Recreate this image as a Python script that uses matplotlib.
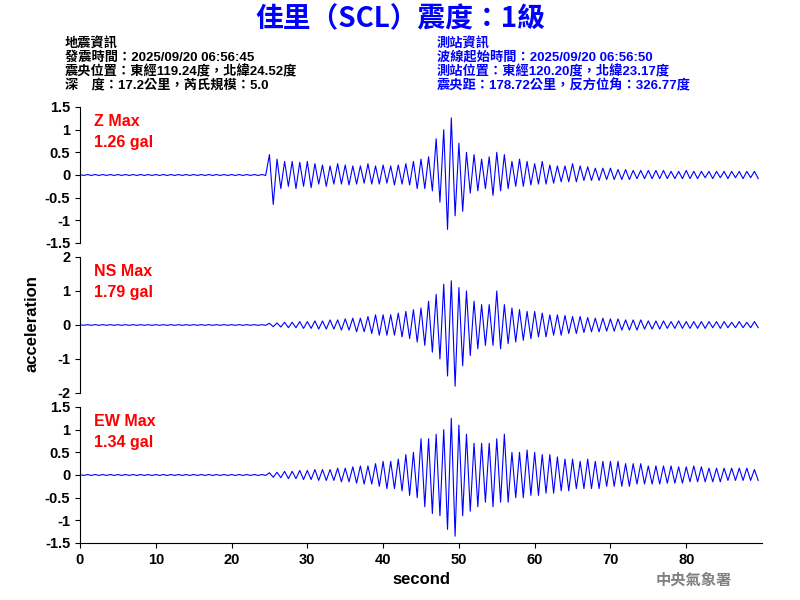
import numpy as np
import matplotlib
matplotlib.use('Agg')
import matplotlib.pyplot as plt

plt.rcParams['font.family'] = ['Liberation Sans', 'Noto Sans CJK TC']
plt.rcParams['font.weight'] = 'bold'

# per-second envelope (max positive, min negative), 0..89 s
z_pos = [0.01]*25 + [0.45, 0.35, 0.3, 0.3, 0.28, 0.3, 0.25, 0.22, 0.2, 0.25, 0.22, 0.2, 0.2, 0.25, 0.2,
         0.22, 0.2, 0.22, 0.25, 0.3, 0.35, 0.4, 0.8, 1.0, 1.26, 0.7, 0.5, 0.45, 0.35, 0.4, 0.5, 0.45,
         0.3, 0.35, 0.3, 0.25, 0.3, 0.22, 0.2, 0.2, 0.25, 0.2, 0.18, 0.15, 0.15, 0.15, 0.12, 0.12, 0.1,
         0.1, 0.1, 0.1, 0.1, 0.08, 0.08, 0.1, 0.08, 0.08, 0.08, 0.08, 0.08, 0.08, 0.08, 0.08, 0.08]
z_neg = [-0.01]*25 + [-0.65, -0.3, -0.25, -0.3, -0.25, -0.28, -0.2, -0.25, -0.2, -0.2, -0.22, -0.2, -0.18, -0.2,
         -0.2, -0.18, -0.22, -0.2, -0.22, -0.3, -0.3, -0.35, -0.6, -1.2, -0.9, -0.8, -0.4, -0.35, -0.3, -0.45,
         -0.35, -0.3, -0.25, -0.25, -0.22, -0.2, -0.2, -0.18, -0.15, -0.15, -0.15, -0.12, -0.12, -0.12, -0.1,
         -0.1, -0.1, -0.1, -0.08, -0.08, -0.08, -0.08, -0.08, -0.08, -0.08, -0.08, -0.08, -0.06, -0.08,
         -0.06, -0.08, -0.06, -0.08, -0.06, -0.08]
ns_pos = [0.01]*25 + [0.05, 0.06, 0.08, 0.08, 0.1, 0.1, 0.12, 0.12, 0.15, 0.15, 0.18, 0.2, 0.2, 0.25, 0.3,
          0.3, 0.3, 0.35, 0.4, 0.45, 0.5, 0.7, 0.9, 1.2, 1.3, 1.1, 1.0, 0.7, 0.6, 0.6, 1.0, 0.6, 0.5,
          0.45, 0.4, 0.4, 0.35, 0.3, 0.3, 0.28, 0.25, 0.25, 0.22, 0.2, 0.2, 0.18, 0.18, 0.15, 0.15, 0.15,
          0.12, 0.12, 0.12, 0.1, 0.12, 0.1, 0.1, 0.1, 0.1, 0.1, 0.1, 0.08, 0.1, 0.08, 0.1]
ns_neg = [-0.01]*25 + [-0.05, -0.06, -0.08, -0.08, -0.1, -0.1, -0.12, -0.12, -0.12, -0.15, -0.15, -0.2, -0.2,
          -0.25, -0.3, -0.3, -0.3, -0.35, -0.4, -0.5, -0.6, -0.8, -1.0, -1.5, -1.8, -1.2, -0.9, -0.7, -0.6,
          -0.6, -0.7, -0.55, -0.5, -0.45, -0.4, -0.35, -0.35, -0.3, -0.3, -0.25, -0.25, -0.22, -0.2, -0.2,
          -0.18, -0.18, -0.15, -0.15, -0.15, -0.12, -0.12, -0.12, -0.1, -0.1, -0.1, -0.1, -0.1, -0.1, -0.08,
          -0.1, -0.08, -0.08, -0.08, -0.08, -0.08]
ew_pos = [0.01]*25 + [0.05, 0.06, 0.08, 0.08, 0.1, 0.1, 0.12, 0.12, 0.12, 0.15, 0.15, 0.18, 0.2, 0.2, 0.25,
          0.3, 0.3, 0.35, 0.45, 0.5, 0.8, 0.8, 0.9, 1.0, 1.25, 1.1, 0.9, 0.7, 0.7, 0.7, 0.8, 0.9, 0.5,
          0.5, 0.55, 0.5, 0.45, 0.45, 0.4, 0.35, 0.35, 0.3, 0.35, 0.3, 0.3, 0.3, 0.3, 0.25, 0.25, 0.25,
          0.2, 0.2, 0.2, 0.2, 0.18, 0.18, 0.2, 0.18, 0.15, 0.15, 0.15, 0.15, 0.15, 0.15, 0.12]
ew_neg = [-0.01]*25 + [-0.05, -0.06, -0.08, -0.08, -0.1, -0.1, -0.12, -0.12, -0.12, -0.15, -0.15, -0.18,
          -0.2, -0.2, -0.25, -0.3, -0.3, -0.35, -0.45, -0.5, -0.7, -0.85, -0.9, -1.2, -1.35, -0.9, -0.8,
          -0.7, -0.6, -0.7, -0.6, -0.6, -0.5, -0.5, -0.45, -0.45, -0.4, -0.4, -0.35, -0.35, -0.3, -0.3,
          -0.3, -0.3, -0.25, -0.25, -0.25, -0.25, -0.2, -0.2, -0.2, -0.2, -0.18, -0.18, -0.18, -0.15, -0.15,
          -0.15, -0.15, -0.15, -0.12, -0.12, -0.12, -0.12, -0.12]

channels = ['Z', 'NS', 'EW']
max_labels = ['1.26 gal', '1.79 gal', '1.34 gal']
ylims = [1.5, 2, 1.5]
yticks = [[1.5, 1, 0.5, 0, -0.5, -1, -1.5], [2, 1, 0, -1, -2], [1.5, 1, 0.5, 0, -0.5, -1, -1.5]]
ytick_labels = [['1.5', '1', '0.5', '0', '-0.5', '-1', '-1.5'], ['2', '1', '0', '-1', '-2'],
                ['1.5', '1', '0.5', '0', '-0.5', '-1', '-1.5']]
traces = [(z_pos, z_neg), (ns_pos, ns_neg), (ew_pos, ew_neg)]

left_info = ['地震資訊', '發震時間：2025/09/20 06:56:45', '震央位置：東經119.24度，北緯24.52度',
             '深　度：17.2公里，芮氏規模：5.0']
right_info = ['測站資訊', '波線起始時間：2025/09/20 06:56:50', '測站位置：東經120.20度，北緯23.17度',
              '震央距：178.72公里，反方位角：326.77度']

fig = plt.figure(figsize=(8, 6), dpi=100)
bottoms = [0.595, 0.345, 0.095]
axes = []
for k in range(3):
    ax = fig.add_axes([0.1, bottoms[k], 0.8525, 0.2267])
    pos, neg = traces[k]
    n = min(len(pos), len(neg), 90)
    t = np.arange(n)
    tt = np.empty(2 * n); tt[0::2] = t; tt[1::2] = t + 0.5
    yy = np.empty(2 * n); yy[0::2] = pos[:n]; yy[1::2] = neg[:n]
    ax.plot(tt, yy, color='blue', lw=0.8)
    ax.set_xlim(0, 90)
    ax.set_ylim(-ylims[k], ylims[k])
    ax.set_yticks(yticks[k])
    ax.set_yticklabels(ytick_labels[k], fontsize=10.5)
    for s in ['top', 'right']:
        ax.spines[s].set_visible(False)
    if k < 2:
        ax.spines['bottom'].set_visible(False)
        ax.set_xticks([])
    else:
        ax.set_xticks(range(0, 90, 10))
        ax.tick_params(axis='x', labelsize=10.5)
        ax.set_xlabel('second', fontsize=12, fontweight='bold')
    ax.text(0.02, 0.95, '%s Max\n%s' % (channels[k], max_labels[k]), transform=ax.transAxes,
            color='red', fontsize=11.5, fontweight='bold', va='top', linespacing=1.5)
    axes.append(ax)

fig.text(0.04, 0.46, 'acceleration', rotation=90, ha='center', va='center', fontsize=12, fontweight='bold')
fig.text(0.5, 0.968, '佳里（SCL）震度：1級', ha='center', va='center', color='blue', fontsize=20,
         fontweight='bold', family=['Noto Sans CJK TC'])
for i, s in enumerate(left_info):
    fig.text(0.081, 0.928 - i * 0.0235, s, color='black', fontsize=9.5, va='center', fontweight='bold')
for i, s in enumerate(right_info):
    fig.text(0.546, 0.928 - i * 0.0235, s, color='blue', fontsize=9.5, va='center', fontweight='bold')
fig.text(0.82, 0.032, '中央氣象署', color='gray', fontsize=11, ha='left', va='center', fontweight='bold')

fig.savefig('out.png', dpi=100)
